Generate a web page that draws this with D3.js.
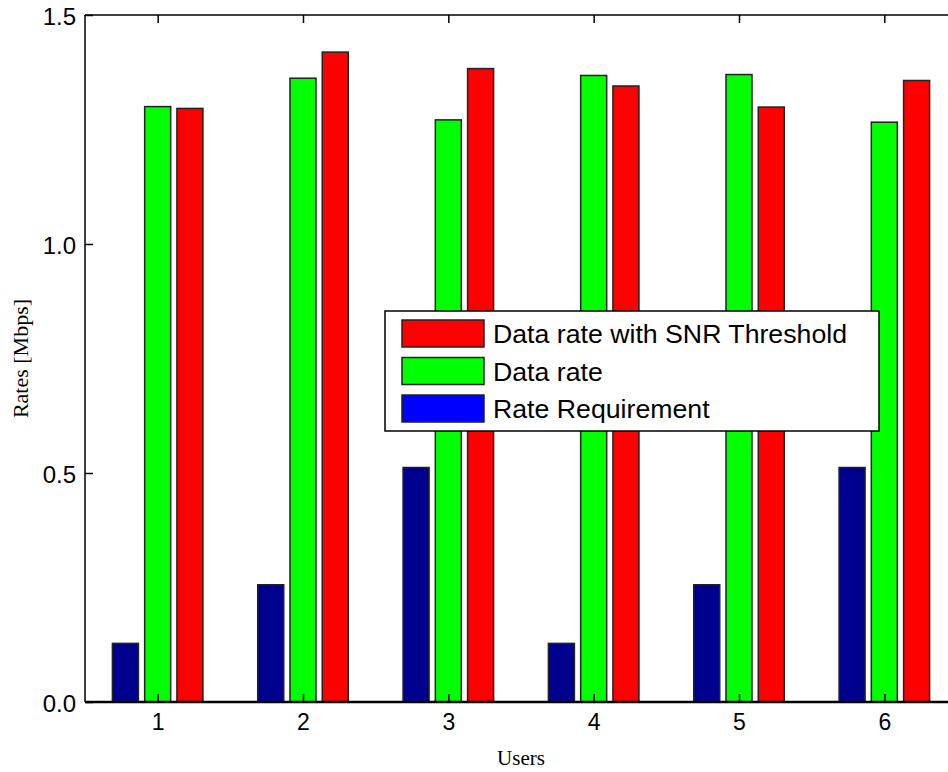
<!DOCTYPE html>
<html><head><meta charset="utf-8">
<script src="https://cdn.jsdelivr.net/npm/d3@7"></script>
<style>body{margin:0;background:#fff}svg{display:block}</style>
</head><body>
<svg id="c" width="948" height="772"></svg>
<script>
const users = [1, 2, 3, 4, 5, 6];
const rateRequirement = [0.128, 0.256, 0.512, 0.128, 0.256, 0.512];
const dataRate = [1.300, 1.362, 1.271, 1.368, 1.370, 1.266];
const dataRateSNR = [1.296, 1.419, 1.383, 1.345, 1.299, 1.357];
const yTicks = [0, 0.5, 1.0, 1.5];
const seriesNames = ["Rate Requirement", "Data rate", "Data rate with SNR Threshold"];
const barColors = ["#00008f", "#00ff00", "#ff0000"];
const legendColors = ["#0000ff", "#00ff00", "#ff0000"];

const svg = d3.select("#c");
const L = 85, R = 957, T = 15, B = 702;
const x = d3.scaleLinear().domain([0.5, 6.5]).range([L, R]);
const y = d3.scaleLinear().domain([0, 1.5]).range([B, T]);
const series = [rateRequirement, dataRate, dataRateSNR];
const offs = [-0.222, 0, 0.222];
const bw = 0.179;

const g = svg.append("g");
series.forEach((vals, si) => {
  g.selectAll(null).data(users).enter().append("rect")
    .attr("x", (u, i) => x(u + offs[si] - bw / 2))
    .attr("width", (u) => x(u + bw) - x(u))
    .attr("y", (u, i) => y(vals[i]))
    .attr("height", (u, i) => y(0) - y(vals[i]))
    .attr("fill", barColors[si])
    .attr("stroke", "#222")
    .attr("stroke-width", 1.5);
});

// axes box
svg.append("line").attr("x1", L).attr("x2", R).attr("y1", T).attr("y2", T).attr("stroke", "#000").attr("stroke-width", 1.5);
svg.append("line").attr("x1", L).attr("x2", R).attr("y1", B).attr("y2", B).attr("stroke", "#000").attr("stroke-width", 2.5);
svg.append("line").attr("x1", L).attr("x2", L).attr("y1", T).attr("y2", B).attr("stroke", "#000").attr("stroke-width", 1.5);

const yAxis = d3.axisLeft(y).tickValues(yTicks).tickFormat(d3.format(".1f")).tickSizeInner(-8).tickSizeOuter(0).tickPadding(9);
const ya = svg.append("g").attr("transform", `translate(${L},0)`).call(yAxis);
ya.select(".domain").remove();
ya.selectAll("text").attr("font-family", "Liberation Sans, Arial, sans-serif").attr("font-size", 24).attr("fill", "#000").attr("dy", "0.4em");
ya.selectAll("line").attr("stroke", "#000").attr("stroke-width", 1.5);

const xAxis = d3.axisBottom(x).tickValues(users).tickFormat(d3.format("d")).tickSizeInner(-8).tickSizeOuter(0).tickPadding(12);
const xa = svg.append("g").attr("transform", `translate(0,${B})`).call(xAxis);
xa.select(".domain").remove();
xa.selectAll("text").attr("font-family", "Liberation Sans, Arial, sans-serif").attr("font-size", 23).attr("fill", "#000");
xa.selectAll("line").attr("stroke", "#000").attr("stroke-width", 1.5);

const xt = d3.axisTop(x).tickValues(users).tickFormat("").tickSizeInner(-8).tickSizeOuter(0);
const xta = svg.append("g").attr("transform", `translate(0,${T})`).call(xt);
xta.select(".domain").remove();
xta.selectAll("line").attr("stroke", "#000").attr("stroke-width", 1.5);

svg.append("text").attr("x", (L + R) / 2).attr("y", 765).attr("text-anchor", "middle")
  .attr("font-family", "Liberation Serif, Times New Roman, serif").attr("font-size", 21).text("Users");
svg.append("text").attr("transform", `translate(28,${(T + B) / 2}) rotate(-90)`).attr("text-anchor", "middle")
  .attr("font-family", "Liberation Serif, Times New Roman, serif").attr("font-size", 22).text("Rates [Mbps]");

// legend
const lg = svg.append("g");
lg.append("rect").attr("x", 385).attr("y", 311).attr("width", 494).attr("height", 120)
  .attr("fill", "#fff").attr("stroke", "#000").attr("stroke-width", 1.5);
const legendOrder = [2, 1, 0];
legendOrder.forEach((si, k) => {
  const yy = 320 + k * 37.5;
  lg.append("rect").attr("x", 402).attr("y", yy).attr("width", 82).attr("height", 27)
    .attr("fill", legendColors[si]).attr("stroke", "#222").attr("stroke-width", 1.5);
  lg.append("text").attr("x", 493).attr("y", yy + 23).attr("font-family", "Liberation Sans, Arial, sans-serif")
    .attr("font-size", 26.7).text(seriesNames[si]);
});
</script>
</body></html>
